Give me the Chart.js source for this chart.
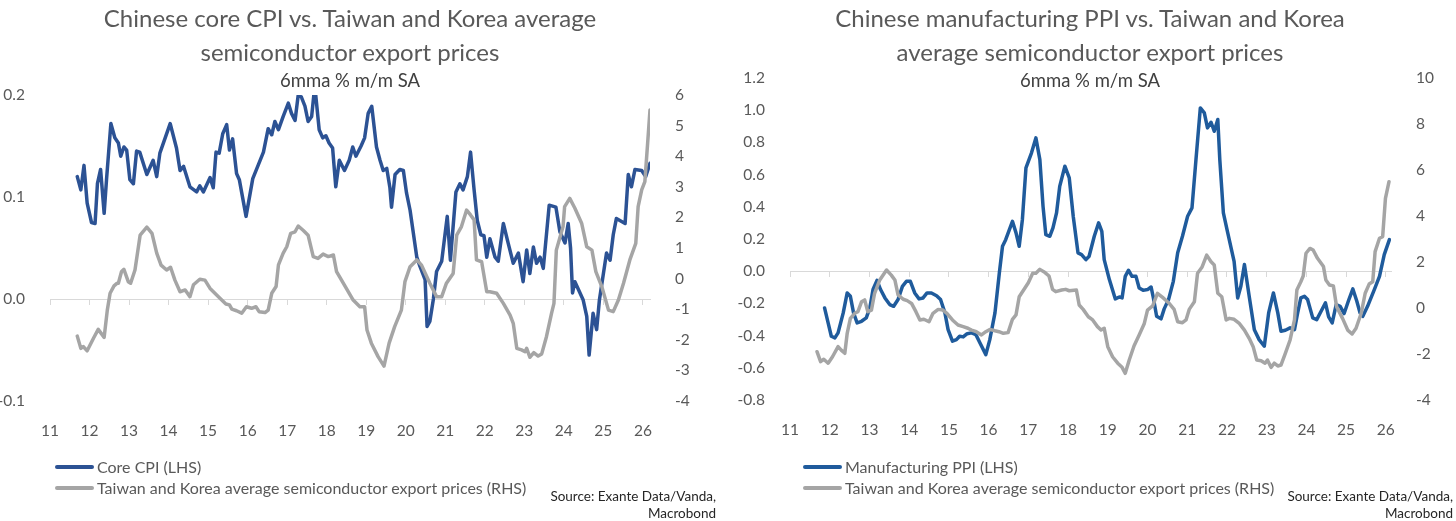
<!DOCTYPE html>
<html>
<head>
<meta charset="utf-8">
<script src="https://cdn.jsdelivr.net/npm/chart.js@4.4.1/dist/chart.umd.min.js"></script>
<style>
  body { margin: 0; width: 1456px; height: 521px; background: #fff; overflow: hidden; font-family: Lato, "Open Sans", sans-serif; }
  .panel { position: absolute; top: 0; width: 728px; height: 521px; }
  .panel canvas { position: absolute; left: 0; top: 0; }
  .title { position: absolute; top: 1px; left: 0; text-align: center; font-size: 24px; line-height: 34px; color: #595959; }
  .sub { position: absolute; top: 69px; left: 0; text-align: center; font-size: 18.5px; line-height: 22px; color: #404040; }
  .legend { position: absolute; top: 456px; font-size: 16px; color: #595959; }
  .legend div { display: flex; align-items: center; height: 21px; white-space: nowrap; }
  .legend i { display: inline-block; width: 39px; height: 4px; border-radius: 2px; margin-right: 3px; }
  .source { position: absolute; top: 488px; text-align: right; font-size: 13.5px; line-height: 17px; color: #262626; white-space: nowrap; }
</style>
</head>
<body>

<div class="panel" style="left:0">
  <canvas id="cpiChart" width="728" height="521"></canvas>
  <div class="title" style="width:700px">Chinese core CPI vs. Taiwan and Korea average<br>semiconductor export prices</div>
  <div class="sub" style="width:700px">6mma % m/m SA</div>
  <div class="legend" style="left:55px">
    <div><i style="background:#2c5294"></i>Core CPI (LHS)</div>
    <div><i style="background:#a5a5a5"></i>Taiwan and Korea average semiconductor export prices (RHS)</div>
  </div>
  <div class="source" style="right:12px">Source: Exante Data/Vanda,<br>Macrobond</div>
</div>

<div class="panel" style="left:728px">
  <canvas id="ppiChart" width="728" height="521"></canvas>
  <div class="title" style="width:724px">Chinese manufacturing PPI vs. Taiwan and Korea<br>average semiconductor export prices</div>
  <div class="sub" style="width:724px">6mma % m/m SA</div>
  <div class="legend" style="left:75px">
    <div><i style="background:#1f5b9c"></i>Manufacturing PPI (LHS)</div>
    <div><i style="background:#a5a5a5"></i>Taiwan and Korea average semiconductor export prices (RHS)</div>
  </div>
  <div class="source" style="right:3px">Source: Exante Data/Vanda,<br>Macrobond</div>
</div>

<script>
// x values are decimal years (11 = 2011)
const yearTicks = [11, 12, 13, 14, 15, 16, 17, 18, 19, 20, 21, 22, 23, 24, 25, 26]

// left panel, core CPI (LHS)
const cpiX = [11.69, 11.78, 11.86, 11.94, 12.05, 12.14, 12.20, 12.28, 12.37, 12.43, 12.54, 12.64, 12.73, 12.79, 12.87, 12.94,
  13.02, 13.11, 13.19, 13.27, 13.45, 13.61, 13.70, 13.78, 14.04, 14.20, 14.29, 14.38, 14.54, 14.71, 14.79, 14.88,
  15.05, 15.13, 15.20, 15.28, 15.37, 15.47, 15.54, 15.62, 15.72, 15.79, 15.96, 16.13, 16.40, 16.52, 16.61, 16.69,
  16.78, 16.90, 17.03, 17.11, 17.20, 17.28, 17.36, 17.45, 17.53, 17.62, 17.68, 17.72, 17.81, 17.90, 17.98, 18.06,
  18.15, 18.23, 18.32, 18.45, 18.57, 18.66, 18.74, 18.87, 18.96, 19.05, 19.14, 19.26, 19.35, 19.43, 19.52, 19.60,
  19.64, 19.73, 19.85, 19.94, 20.02, 20.11, 20.28, 20.36, 20.49, 20.54, 20.61, 20.70, 20.78, 20.91, 21.05, 21.13,
  21.27, 21.37, 21.45, 21.56, 21.64, 21.73, 21.81, 21.90, 21.98, 22.05, 22.13, 22.26, 22.34, 22.47, 22.59, 22.72,
  22.85, 22.97, 23.06, 23.14, 23.23, 23.31, 23.40, 23.48, 23.63, 23.80, 23.90, 24.03, 24.11, 24.17, 24.22, 24.28,
  24.49, 24.58, 24.64, 24.74, 24.83, 24.90, 25.08, 25.17, 25.25, 25.33, 25.55, 25.63, 25.71, 25.80, 25.97, 26.07, 26.18]
const cpiY = [0.120, 0.107, 0.131, 0.094, 0.075, 0.074, 0.113, 0.127, 0.084, 0.117, 0.172, 0.158, 0.153, 0.140, 0.149, 0.146,
  0.117, 0.113, 0.145, 0.144, 0.122, 0.136, 0.120, 0.143, 0.172, 0.148, 0.126, 0.130, 0.110, 0.105, 0.111, 0.105,
  0.119, 0.109, 0.144, 0.143, 0.162, 0.171, 0.146, 0.157, 0.123, 0.117, 0.081, 0.118, 0.144, 0.167, 0.161, 0.174,
  0.166, 0.179, 0.192, 0.182, 0.175, 0.200, 0.198, 0.189, 0.174, 0.179, 0.202, 0.201, 0.166, 0.158, 0.160, 0.153,
  0.148, 0.110, 0.136, 0.126, 0.136, 0.149, 0.140, 0.150, 0.158, 0.182, 0.189, 0.149, 0.136, 0.126, 0.128, 0.109,
  0.090, 0.122, 0.127, 0.126, 0.104, 0.087, 0.041, 0.032, 0.019, -0.027, -0.022, 0.000, 0.027, 0.037, 0.081, 0.038,
  0.105, 0.113, 0.107, 0.120, 0.144, 0.107, 0.077, 0.063, 0.062, 0.041, 0.059, 0.041, 0.037, 0.074, 0.055, 0.035,
  0.045, 0.017, 0.048, 0.025, 0.051, 0.035, 0.041, 0.030, 0.092, 0.090, 0.066, 0.055, 0.074, 0.050, 0.006, 0.017,
  -0.001, -0.017, -0.055, -0.014, -0.030, -0.001, 0.045, 0.038, 0.063, 0.079, 0.074, 0.122, 0.110, 0.127, 0.126, 0.120, 0.133]

// left panel, semiconductor export prices (RHS)
const semiCpiX = [11.69, 11.78, 11.84, 11.94, 12.10, 12.22, 12.37, 12.45, 12.52, 12.62, 12.70, 12.73, 12.81, 12.87, 12.98, 13.04,
  13.15, 13.28, 13.45, 13.58, 13.70, 13.81, 13.95, 14.05, 14.16, 14.29, 14.42, 14.54, 14.63, 14.79, 14.92, 15.05,
  15.30, 15.45, 15.54, 15.60, 15.72, 15.85, 15.97, 16.10, 16.21, 16.29, 16.44, 16.52, 16.61, 16.72, 16.78, 16.90,
  16.99, 17.09, 17.20, 17.28, 17.41, 17.53, 17.66, 17.78, 17.91, 18.04, 18.17, 18.25, 18.42, 18.67, 18.84, 18.96,
  19.02, 19.13, 19.30, 19.45, 19.58, 19.72, 19.89, 19.98, 20.11, 20.28, 20.40, 20.61, 20.78, 20.91, 21.03, 21.20,
  21.29, 21.41, 21.54, 21.64, 21.73, 21.79, 21.92, 22.05, 22.13, 22.30, 22.47, 22.64, 22.72, 22.81, 22.93, 23.02,
  23.06, 23.14, 23.24, 23.35, 23.44, 23.56, 23.69, 23.75, 23.81, 23.98, 24.02, 24.15, 24.28, 24.45, 24.58, 24.71,
  24.81, 24.96, 25.13, 25.25, 25.38, 25.51, 25.67, 25.82, 25.88, 25.97, 26.05, 26.12, 26.18]
const semiCpiY = [-1.88, -2.28, -2.22, -2.36, -1.95, -1.66, -1.92, -1.03, -0.48, -0.24, -0.15, -0.15, 0.23, 0.30, -0.10, -0.15,
  0.28, 1.42, 1.68, 1.48, 0.83, 0.44, 0.28, 0.37, -0.05, -0.43, -0.37, -0.59, -0.20, -0.02, -0.05, -0.32,
  -0.64, -0.83, -0.86, -1.00, -1.05, -1.13, -0.92, -0.97, -0.92, -1.08, -1.11, -1.03, -0.48, -0.26, 0.45, 0.83,
  1.04, 1.48, 1.53, 1.72, 1.57, 1.42, 0.72, 0.66, 0.80, 0.72, 0.77, 0.23, -0.15, -0.70, -0.92, -0.92,
  -1.68, -2.11, -2.55, -2.86, -2.11, -1.57, -1.03, -0.10, 0.39, 0.61, 0.44, -0.15, -0.59, -0.59, -0.15, 0.17,
  1.42, 1.70, 2.24, 2.08, 1.92, 0.61, 0.55, -0.43, -0.43, -0.48, -0.81, -1.19, -1.46, -2.28, -2.33, -2.39,
  -2.28, -2.57, -2.42, -2.53, -2.46, -1.90, -1.13, -0.81, 0.93, 1.70, 2.35, 2.62, 2.30, 1.81, 1.04, 0.93,
  0.23, -0.26, -1.03, -1.08, -0.70, -0.15, 0.61, 1.15, 2.35, 2.90, 3.17, 4.42, 5.51]

// right panel, manufacturing PPI (LHS)
const ppiX = [11.87, 11.96, 12.04, 12.13, 12.21, 12.34, 12.44, 12.52, 12.60, 12.69, 12.80, 12.92, 13.01, 13.09, 13.19, 13.28,
  13.39, 13.51, 13.61, 13.72, 13.83, 13.93, 14.03, 14.14, 14.25, 14.35, 14.45, 14.56, 14.69, 14.79, 14.90, 14.98,
  15.09, 15.19, 15.27, 15.36, 15.46, 15.57, 15.68, 15.78, 15.93, 16.03, 16.16, 16.27, 16.35, 16.43, 16.60, 16.69,
  16.77, 16.85, 16.94, 17.08, 17.19, 17.29, 17.37, 17.44, 17.54, 17.62, 17.71, 17.79, 17.92, 18.03, 18.13, 18.25,
  18.34, 18.45, 18.53, 18.66, 18.77, 18.85, 18.91, 19.04, 19.19, 19.29, 19.36, 19.44, 19.52, 19.61, 19.71, 19.79,
  19.89, 20.00, 20.09, 20.14, 20.23, 20.34, 20.42, 20.53, 20.65, 20.76, 20.88, 21.01, 21.12, 21.22, 21.33, 21.43,
  21.51, 21.60, 21.68, 21.77, 21.82, 21.91, 22.02, 22.18, 22.27, 22.35, 22.44, 22.56, 22.69, 22.81, 22.94, 23.05,
  23.17, 23.28, 23.36, 23.47, 23.59, 23.70, 23.78, 23.86, 23.95, 24.03, 24.16, 24.26, 24.37, 24.48, 24.56, 24.65,
  24.75, 24.85, 24.95, 25.07, 25.17, 25.27, 25.35, 25.42, 25.54, 25.71, 25.84, 25.96, 26.09]
const ppiY = [-0.228, -0.321, -0.404, -0.414, -0.383, -0.259, -0.135, -0.156, -0.259, -0.321, -0.311, -0.290, -0.228, -0.114, -0.057, -0.114,
  -0.166, -0.207, -0.218, -0.176, -0.094, -0.063, -0.063, -0.135, -0.172, -0.166, -0.135, -0.135, -0.152, -0.176, -0.259, -0.363,
  -0.435, -0.425, -0.404, -0.408, -0.388, -0.383, -0.394, -0.445, -0.518, -0.425, -0.259, -0.011, 0.155, 0.196, 0.310, 0.238,
  0.155, 0.320, 0.642, 0.735, 0.828, 0.693, 0.403, 0.227, 0.217, 0.269, 0.362, 0.527, 0.652, 0.579, 0.341, 0.114,
  0.103, 0.072, 0.093, 0.217, 0.300, 0.248, 0.072, -0.052, -0.172, -0.160, -0.166, -0.032, 0.006, -0.032, -0.032, -0.104,
  -0.119, -0.114, -0.098, -0.156, -0.280, -0.296, -0.234, -0.176, -0.063, 0.114, 0.217, 0.341, 0.393, 0.693, 1.014, 0.983,
  0.890, 0.925, 0.869, 0.942, 0.693, 0.362, 0.238, 0.061, -0.166, -0.094, 0.041, -0.156, -0.363, -0.425, -0.466, -0.259,
  -0.135, -0.259, -0.373, -0.367, -0.352, -0.363, -0.259, -0.166, -0.156, -0.176, -0.290, -0.301, -0.249, -0.197, -0.284, -0.321,
  -0.207, -0.218, -0.263, -0.176, -0.110, -0.187, -0.259, -0.280, -0.218, -0.114, -0.032, 0.103, 0.196]

// right panel, semiconductor export prices (RHS)
const semiPpiX = [11.68, 11.77, 11.85, 11.96, 12.07, 12.21, 12.29, 12.38, 12.44, 12.52, 12.63, 12.71, 12.80, 12.88, 12.96, 13.05,
  13.13, 13.26, 13.43, 13.55, 13.64, 13.72, 13.85, 13.95, 14.06, 14.17, 14.27, 14.37, 14.50, 14.60, 14.73, 14.85,
  14.95, 15.09, 15.23, 15.36, 15.48, 15.57, 15.69, 15.82, 15.93, 16.03, 16.16, 16.26, 16.37, 16.49, 16.60, 16.69,
  16.77, 16.91, 17.00, 17.11, 17.19, 17.29, 17.42, 17.52, 17.61, 17.69, 17.84, 17.94, 18.03, 18.21, 18.28, 18.38,
  18.51, 18.62, 18.74, 18.83, 18.91, 19.00, 19.12, 19.25, 19.36, 19.44, 19.54, 19.66, 19.79, 19.92, 20.00, 20.13,
  20.25, 20.38, 20.53, 20.67, 20.76, 20.88, 20.97, 21.05, 21.18, 21.26, 21.37, 21.49, 21.60, 21.68, 21.77, 21.87,
  21.98, 22.06, 22.18, 22.31, 22.44, 22.56, 22.66, 22.75, 22.86, 22.96, 23.02, 23.11, 23.19, 23.28, 23.36, 23.47,
  23.59, 23.70, 23.76, 23.86, 23.92, 23.99, 24.09, 24.17, 24.28, 24.43, 24.49, 24.58, 24.68, 24.76, 24.91, 25.04,
  25.15, 25.25, 25.38, 25.48, 25.58, 25.67, 25.73, 25.84, 25.92, 25.99, 26.08]
const semiPpiY = [-1.90, -2.33, -2.23, -2.40, -2.12, -1.68, -1.83, -1.97, -1.10, -0.45, -0.23, -0.16, 0.27, 0.35, -0.16, -0.09,
  0.64, 1.22, 1.65, 1.43, 1.22, 0.57, 0.38, 0.32, 0.20, -0.16, -0.52, -0.49, -0.60, -0.23, -0.06, -0.09,
  -0.23, -0.52, -0.74, -0.81, -0.88, -0.96, -1.03, -1.17, -1.03, -0.93, -0.99, -1.03, -1.10, -1.07, -0.49, -0.30,
  0.49, 0.86, 1.10, 1.51, 1.51, 1.68, 1.54, 1.39, 0.81, 0.71, 0.78, 0.81, 0.75, 0.78, 0.13, -0.06,
  -0.38, -0.52, -0.81, -0.96, -0.88, -1.68, -2.12, -2.40, -2.58, -2.84, -2.26, -1.65, -1.17, -0.67, -0.09, 0.09,
  0.64, 0.46, 0.23, -0.06, -0.60, -0.64, -0.52, -0.06, 0.27, 1.51, 1.77, 2.30, 2.01, 1.87, 0.64, 0.49,
  -0.52, -0.45, -0.49, -0.67, -0.96, -1.32, -1.68, -2.26, -2.29, -2.40, -2.26, -2.58, -2.40, -2.52, -2.48, -1.97,
  -1.39, -0.52, 0.78, 1.14, 1.39, 2.38, 2.59, 2.52, 2.16, 1.80, 1.22, 1.00, 0.96, 0.06, -0.45, -0.96,
  -1.13, -0.88, -0.23, 0.64, 1.04, 1.14, 2.45, 3.03, 3.10, 4.77, 5.49]

const cpiTicks = [-0.1, 0, 0.1, 0.2]
const semiCpiTicks = [-4, -3, -2, -1, 0, 1, 2, 3, 4, 5, 6]
const ppiTicks = [-0.8, -0.6, -0.4, -0.2, 0, 0.2, 0.4, 0.6, 0.8, 1.0, 1.2]
const semiPpiTicks = [-4, -2, 0, 2, 4, 6, 8, 10]

const GREY = '#a5a5a5'
const AXIS = '#d9d9d9'
const LABEL = '#595959'

Chart.defaults.font.family = 'Lato, "Open Sans", sans-serif'

const pts = (xs, ys) => xs.map((x, i) => ({ x, y: ys[i] }))
const fixTicks = (list) => (scale) => { scale.ticks = list.map((value) => ({ value })) }

function drawPanel(id, p) {
  const tickFont = { size: 15.5 }
  return new Chart(document.getElementById(id), {
    type: 'line',
    data: {
      datasets: [
        { label: p.mainLabel, data: pts(p.mainX, p.mainY), yAxisID: 'y', borderColor: p.mainColor, order: 1 },
        { label: p.semiLabel, data: pts(p.semiX, p.semiY), yAxisID: 'y1', borderColor: GREY, order: 0 },
      ],
    },
    options: {
      responsive: false,
      animation: false,
      layout: { padding: { top: p.top, left: 0, right: 0, bottom: 0 } },
      elements: {
        line: { borderWidth: 3.5, tension: 0, borderJoinStyle: 'round', borderCapStyle: 'round', fill: false },
        point: { radius: 0, hoverRadius: 0 },
      },
      plugins: { legend: { display: false }, tooltip: { enabled: false } },
      scales: {
        x: {
          type: 'linear', position: 'bottom', min: 11, max: p.xMax,
          afterBuildTicks: fixTicks(yearTicks),
          afterFit: (s) => { s.height = 521 - p.bottom },
          grid: { display: false },
          border: { display: false },
          ticks: { autoSkip: false, maxRotation: 0, padding: 13, color: LABEL, font: tickFont },
        },
        // zero line with small tick marks, sits at 0 of the left axis
        x0: {
          type: 'linear', position: { y: 0 }, min: 11, max: p.xMax,
          afterBuildTicks: fixTicks(yearTicks),
          grid: { drawOnChartArea: false, drawTicks: true, tickLength: 5, color: AXIS, lineWidth: 1 },
          border: { display: true, color: AXIS, width: 1 },
          ticks: { display: false },
        },
        y: {
          type: 'linear', position: 'left', min: p.yTicks[0], max: p.yTicks[p.yTicks.length - 1],
          afterBuildTicks: fixTicks(p.yTicks),
          afterFit: (s) => { s.width = p.leftW },
          grid: { display: false },
          border: { display: false },
          ticks: { padding: 17, color: LABEL, font: tickFont, callback: (v) => v.toFixed(1) },
        },
        y1: {
          type: 'linear', position: 'right', min: p.y1Ticks[0], max: p.y1Ticks[p.y1Ticks.length - 1],
          afterBuildTicks: fixTicks(p.y1Ticks),
          afterFit: (s) => { s.width = p.rightW },
          grid: { display: false },
          border: { display: false },
          ticks: { padding: 17, color: LABEL, font: tickFont, callback: (v) => String(v) },
        },
      },
    },
  })
}

drawPanel('cpiChart', {
  mainLabel: 'Core CPI (LHS)', mainX: cpiX, mainY: cpiY, mainColor: '#2c5294',
  semiLabel: 'Taiwan and Korea average semiconductor export prices (RHS)', semiX: semiCpiX, semiY: semiCpiY,
  yTicks: cpiTicks, y1Ticks: semiCpiTicks,
  top: 95, bottom: 401, leftW: 50, rightW: 78, xMax: 26.18,
})

drawPanel('ppiChart', {
  mainLabel: 'Manufacturing PPI (LHS)', mainX: ppiX, mainY: ppiY, mainColor: '#1f5b9c',
  semiLabel: 'Taiwan and Korea average semiconductor export prices (RHS)', semiX: semiPpiX, semiY: semiPpiY,
  yTicks: ppiTicks, y1Ticks: semiPpiTicks,
  top: 78, bottom: 400, leftW: 62, rightW: 65, xMax: 26.13,
})
</script>
</body>
</html>
